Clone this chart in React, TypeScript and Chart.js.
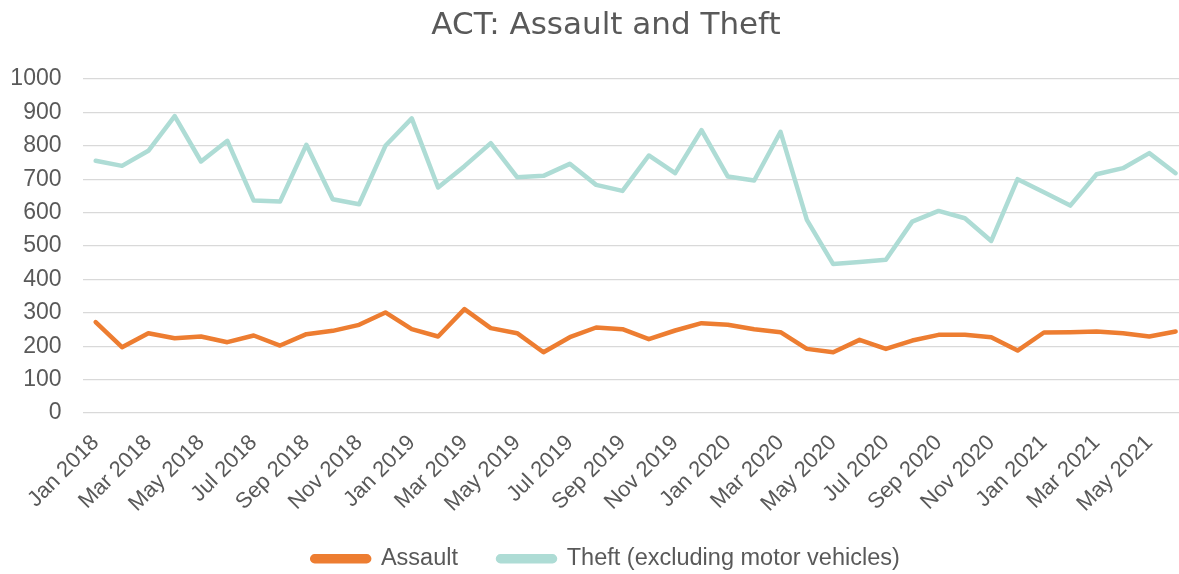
import React, { useEffect, useRef } from "react";
import { Chart, registerables } from "chart.js";

Chart.register(...registerables);

const months = [
  "Jan 2018", "Feb 2018", "Mar 2018", "Apr 2018", "May 2018", "Jun 2018", "Jul 2018", "Aug 2018", "Sep 2018", "Oct 2018", "Nov 2018", "Dec 2018",
  "Jan 2019", "Feb 2019", "Mar 2019", "Apr 2019", "May 2019", "Jun 2019", "Jul 2019", "Aug 2019", "Sep 2019", "Oct 2019", "Nov 2019", "Dec 2019",
  "Jan 2020", "Feb 2020", "Mar 2020", "Apr 2020", "May 2020", "Jun 2020", "Jul 2020", "Aug 2020", "Sep 2020", "Oct 2020", "Nov 2020", "Dec 2020",
  "Jan 2021", "Feb 2021", "Mar 2021", "Apr 2021", "May 2021", "Jun 2021",
];

const assault = [
  272, 197, 239, 224, 229, 212, 232, 202, 236, 246, 264, 301,
  251, 229, 311, 254, 239, 182, 227, 256, 251, 221, 247, 269,
  264, 251, 242, 192, 182, 219, 192, 217, 234, 234, 227, 187,
  241, 242, 244, 239, 229, 244,
];

const theft = [
  755, 740, 785, 889, 753, 815, 636, 633, 803, 640, 625, 800,
  882, 675, 739, 808, 706, 710, 746, 683, 665, 771, 718, 847,
  708, 696, 842, 578, 446, 452, 459, 573, 605, 583, 515, 700,
  661, 621, 715, 733, 778, 718,
];

const yTicks = [0, 100, 200, 300, 400, 500, 600, 700, 800, 900, 1000];

const TEXT = "#595959";
const FONT = "'Liberation Sans', Arial, sans-serif";

const legendTweak = {
  id: "legendTweak",
  beforeLayout(chart: any) {
    const lg = chart.legend;
    if (!lg || lg.__patched) return;
    lg.__patched = true;
    const origFit = lg.fit.bind(lg);
    lg.fit = function () {
      origFit();
      this.height = 40;
    };
    const origDraw = lg._draw.bind(lg);
    lg._draw = function () {
      const t = this.top;
      this.top = t - 27;
      origDraw();
      this.top = t;
    };
  },
};

export default function App() {
  const ref = useRef<HTMLCanvasElement | null>(null);

  useEffect(() => {
    if (!ref.current) return;
    const chart = new Chart(ref.current, {
      type: "line",
      data: {
        labels: months,
        datasets: [
          {
            label: "Assault",
            data: assault,
            borderColor: "#ED7D31",
            backgroundColor: "#ED7D31",
            borderWidth: 4.5,
            pointRadius: 0,
            tension: 0,
            borderJoinStyle: "round",
            borderCapStyle: "round",
          },
          {
            label: "Theft (excluding motor vehicles)",
            data: theft,
            borderColor: "#AEDCD5",
            backgroundColor: "#AEDCD5",
            borderWidth: 4.5,
            pointRadius: 0,
            tension: 0,
            borderJoinStyle: "round",
            borderCapStyle: "round",
          },
        ],
      },
      plugins: [legendTweak],
      options: {
        responsive: false,
        animation: false,
        layout: { padding: 0 },
        plugins: {
          title: {
            display: true,
            text: "ACT: Assault and Theft",
            color: TEXT,
            font: { family: "'DejaVu Sans', sans-serif", size: 31, weight: "normal" },
            padding: { top: 7, bottom: 34.8 },
          },
          legend: {
            position: "bottom",
            labels: {
              color: TEXT,
              font: { family: FONT, size: 23.5 },
              boxWidth: 57,
              boxHeight: 5,
              useBorderRadius: true,
              borderRadius: 2.5,
              padding: 40,
            },
          },
          tooltip: { enabled: false },
        },
        scales: {
          x: {
            offset: true,
            grid: { display: false },
            border: { display: false },
            afterFit: (s: any) => {
              s.height = 121;
              s.paddingLeft = 0;
              s.paddingRight = 0;
            },
            ticks: {
              color: TEXT,
              font: { family: FONT, size: 22 },
              autoSkip: false,
              maxRotation: 45,
              minRotation: 45,
              padding: 9,
              callback: function (_v: any, i: number) {
                return i % 2 === 0 ? months[i] : "";
              },
            },
          },
          y: {
            min: 0,
            max: 1000,
            afterBuildTicks: (axis: any) => {
              axis.ticks = yTicks.map((v) => ({ value: v }));
            },
            afterFit: (s: any) => {
              s.width = 82.5;
            },
            border: { display: false },
            grid: { color: "#D9D9D9", lineWidth: 1.3, drawTicks: false },
            ticks: {
              color: TEXT,
              font: { family: FONT, size: 23 },
              padding: 21,
              callback: (v: any) => String(v),
            },
          },
          yRight: {
            position: "right",
            display: true,
            grid: { display: false },
            border: { display: false },
            ticks: { display: false },
            afterFit: (s: any) => {
              s.width = 23.2;
            },
          },
        },
      },
    });
    return () => chart.destroy();
  }, []);

  return (
    <div style={{ position: "fixed", left: 0, top: 0, width: 1179, height: 574, overflow: "hidden", background: "#fff" }}>
      <canvas ref={ref} width={1212} height={574} style={{ display: "block" }} />
    </div>
  );
}
